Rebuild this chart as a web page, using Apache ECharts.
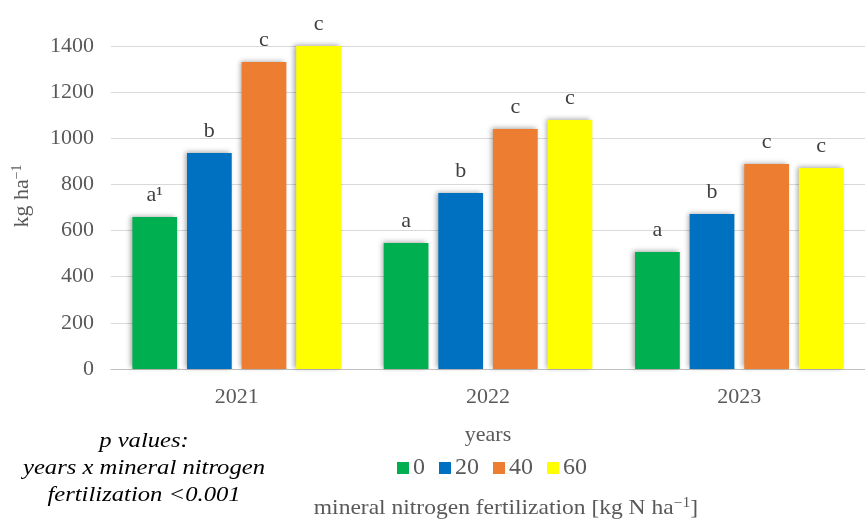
<!DOCTYPE html>
<html>
<head>
<meta charset="utf-8">
<script src="https://cdn.jsdelivr.net/npm/echarts@6/dist/echarts.min.js"></script>
<style>
  html, body { margin: 0; padding: 0; background: #fff; }
  #chart { width: 865px; height: 520px; }
</style>
</head>
<body>
<div id="chart"></div>
<script>
// Yield by year and mineral nitrogen dose (kg ha-1)
const years = ['2021', '2022', '2023'];
const doses = ['0', '20', '40', '60'];
const dose0 = [659, 546, 507];
const dose20 = [936, 763, 672];
const dose40 = [1331, 1040, 889];
const dose60 = [1413, 1079, 871];
// Significance letters for each bar
const letters0 = ['a¹', 'a', 'a'];
const letters20 = ['b', 'b', 'b'];
const letters40 = ['c', 'c', 'c'];
const letters60 = ['c', 'c', 'c'];
const yTicks = [0, 200, 400, 600, 800, 1000, 1200, 1400];

const colors = ['#00B050', '#0070C0', '#ED7D31', '#FFFF00'];
const serif = '"Liberation Serif", "Times New Roman", serif';
const grey = '#595959';

const seriesValues = [dose0, dose20, dose40, dose60];
const seriesLetters = [letters0, letters20, letters40, letters60];

const chart = echarts.init(document.getElementById('chart'));

const series = doses.map((d, i) => ({
  name: d,
  type: 'bar',
  data: seriesValues[i],
  barGap: '22%',
  barCategoryGap: '17%',
  itemStyle: {
    color: colors[i],
    shadowBlur: 5,
    shadowColor: 'rgba(0,0,0,0.35)',
    shadowOffsetX: -2,
    shadowOffsetY: -1
  },
  label: {
    show: true,
    position: 'top',
    distance: 11,
    fontFamily: serif,
    fontSize: 22,
    color: '#404040',
    formatter: p => seriesLetters[i][p.dataIndex]
  }
}));

const supRich = {
  b: { fontFamily: serif, fontSize: 21, fill: grey, lineHeight: 24 },
  s: { fontFamily: serif, fontSize: 14, fill: grey, verticalAlign: 'top', lineHeight: 24, padding: [0, 0, 8, 0] }
};

chart.setOption({
  animation: false,
  textStyle: { fontFamily: serif },
  grid: { left: 111, width: 767, top: 46, height: 323, containLabel: false },
  legend: {
    data: doses,
    left: 397,
    top: 456,
    padding: 0,
    itemWidth: 12,
    itemHeight: 12,
    itemGap: 14,
    icon: 'rect',
    textStyle: { fontFamily: serif, fontSize: 24, color: grey, padding: [0, 0, 0, -1] }
  },
  xAxis: {
    type: 'category',
    data: years,
    name: 'years',
    nameLocation: 'middle',
    nameGap: 55,
    nameTextStyle: { fontFamily: serif, fontSize: 22, color: grey },
    axisLine: { lineStyle: { color: '#bfbfbf', width: 1 } },
    axisTick: { show: false },
    axisLabel: { fontFamily: serif, fontSize: 22, color: grey, margin: 17 }
  },
  yAxis: {
    type: 'value',
    min: yTicks[0],
    max: yTicks[yTicks.length - 1],
    interval: 200,
    axisLine: { show: false },
    axisTick: { show: false },
    splitLine: { lineStyle: { color: '#d9d9d9', width: 1 } },
    axisLabel: {
      fontFamily: serif, fontSize: 22, color: grey, margin: 17,
      formatter: v => String(v)
    }
  },
  graphic: [
    {
      // y-axis title
      type: 'text',
      x: 22,
      y: 196,
      rotation: Math.PI / 2,
      style: {
        text: '{b|kg ha}{s|−1}',
        rich: {
          b: { fontFamily: serif, fontSize: 22, fill: grey, lineHeight: 24 },
          s: { fontFamily: serif, fontSize: 14, fill: grey, verticalAlign: 'top', lineHeight: 24, padding: [0, 0, 8, 0] }
        },
        align: 'center',
        verticalAlign: 'middle'
      }
    },
    {
      type: 'text',
      x: 144,
      y: 428,
      scaleX: 1.12,
      style: {
        text: 'p values:\nyears x mineral nitrogen\nfertilization <0.001',
        fontFamily: serif,
        fontStyle: 'italic',
        fontSize: 22,
        lineHeight: 27,
        fill: '#000',
        align: 'center',
        verticalAlign: 'top'
      }
    },
    {
      type: 'text',
      x: 506,
      y: 508,
      scaleX: 1.12,
      style: {
        text: '{b|mineral nitrogen fertilization [kg N ha}{s|−1}{b|]}',
        rich: supRich,
        align: 'center',
        verticalAlign: 'middle'
      }
    }
  ],
  series: series
});
</script>
</body>
</html>
